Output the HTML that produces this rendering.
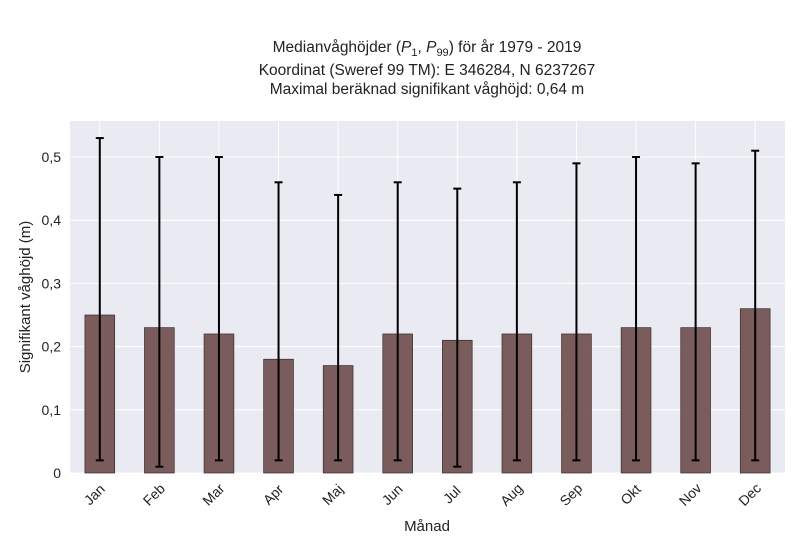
<!DOCTYPE html>
<html><head><meta charset="utf-8"><style>
html,body{margin:0;padding:0;background:#fff;}
svg{display:block;font-family:"Liberation Sans","DejaVu Sans",sans-serif;}
</style></head><body>
<svg id="chart" width="800" height="550" viewBox="0 0 800 550" xmlns="http://www.w3.org/2000/svg">
<g font-size="15.5" fill="#222" text-anchor="middle">
<text x="427" y="52">Medianvåghöjder (<tspan font-style="italic">P</tspan><tspan font-size="11" dy="4">1</tspan><tspan dy="-4">, </tspan><tspan font-style="italic">P</tspan><tspan font-size="11" dy="4">99</tspan><tspan dy="-4">) för år 1979 - 2019</tspan></text>
<text x="427" y="75">Koordinat (Sweref 99 TM): E 346284, N 6237267</text>
<text x="427" y="94">Maximal beräknad signifikant våghöjd: 0,64 m</text>
</g>
<rect x="70" y="121" width="715" height="352" fill="#eaeaf2"/>
<g id="grid"></g><g id="bars"></g><g id="errs"></g><g id="yt"></g><g id="xt"></g>
<text x="427" y="531" font-size="15" fill="#222" text-anchor="middle">Månad</text>
<text transform="translate(30,297) rotate(-90)" font-size="15" fill="#222" text-anchor="middle">Signifikant våghöjd (m)</text>
</svg>
<script>
const months=["Jan","Feb","Mar","Apr","Maj","Jun","Jul","Aug","Sep","Okt","Nov","Dec"];
const medians=[0.25,0.23,0.22,0.18,0.17,0.22,0.21,0.22,0.22,0.23,0.23,0.26];
const p99=[0.53,0.50,0.50,0.46,0.44,0.46,0.45,0.46,0.49,0.50,0.49,0.51];
const p1=[0.02,0.01,0.02,0.02,0.02,0.02,0.01,0.02,0.02,0.02,0.02,0.02];
const yTicks=[0,0.1,0.2,0.3,0.4,0.5];
const yTickLabels=["0","0,1","0,2","0,3","0,4","0,5"];
const NS="http://www.w3.org/2000/svg";
const L=70,R=785,T=121,B=473,yMax=0.557;
const y=v=>B-v/yMax*(B-T);
const step=(R-L)/months.length;
const x=i=>L+step*(i+0.5);
const bw=step*0.5;
function mk(t,a,p){const e=document.createElementNS(NS,t);for(const k in a)e.setAttribute(k,a[k]);p.appendChild(e);return e;}
const g=document.getElementById('grid'),bg=document.getElementById('bars'),eg=document.getElementById('errs'),yt=document.getElementById('yt'),xt=document.getElementById('xt');
yTicks.forEach((v,i)=>{
 const l=mk('line',{x1:L,x2:R,y1:y(v),y2:y(v),stroke:'#fff','stroke-width':1},g);
 
 
 const t=mk('text',{x:L-9,y:y(v)+5,'font-size':14,fill:'#222','text-anchor':'end'},yt);
 t.textContent=yTickLabels[i];
 
 
});
months.forEach((m,i)=>{
 const gl=mk('line',{x1:x(i),x2:x(i),y1:T,y2:B,stroke:'#fff','stroke-width':1},g);
 
 
 const r=mk('rect',{x:x(i)-bw/2,y:y(medians[i]),width:bw,height:B-y(medians[i]),fill:'#7b5c5c',stroke:'#3a2a2a','stroke-width':0.7},bg);
 
 
 const e=mk('g',{stroke:'#000','stroke-width':2},eg);
 
 
 mk('line',{x1:x(i),x2:x(i),y1:y(p99[i]),y2:y(p1[i])},e);
 mk('line',{x1:x(i)-4,x2:x(i)+4,y1:y(p99[i]),y2:y(p99[i])},e);
 mk('line',{x1:x(i)-4,x2:x(i)+4,y1:y(p1[i]),y2:y(p1[i])},e);
 const t=mk('text',{x:0,y:0,'font-size':14,fill:'#222','text-anchor':'middle',transform:`translate(${x(i)-2},${B+25}) rotate(-45)`},xt);
 t.textContent=m;
 
 
});
</script>
</body></html>
